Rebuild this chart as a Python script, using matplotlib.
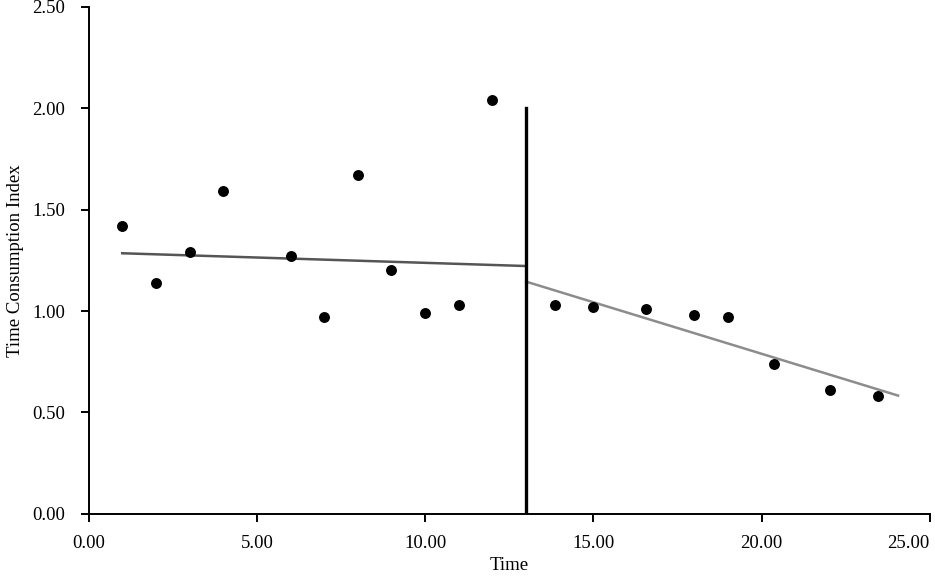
import matplotlib
matplotlib.use("Agg")
import matplotlib.pyplot as plt
from matplotlib.transforms import ScaledTranslation

plt.rcParams['font.family'] = ['Liberation Serif', 'DejaVu Serif']

# Phase A (baseline)
time_a = [1, 2, 3, 4, 6, 7, 8, 9, 10, 11, 12]
index_a = [1.42, 1.14, 1.29, 1.59, 1.27, 0.97, 1.67, 1.20, 0.99, 1.03, 2.04]
# Phase B (intervention)
time_b = [13.85, 15.0, 16.57, 18.0, 19.0, 20.36, 22.02, 23.46]
index_b = [1.03, 1.02, 1.01, 0.98, 0.97, 0.74, 0.61, 0.58]

# Trend lines (endpoints)
trend_a_x = [1.0, 13.0]
trend_a_y = [1.285, 1.222]
trend_b_x = [13.0, 24.05]
trend_b_y = [1.145, 0.583]

# Phase change line
phase_x = 13.0
phase_top = 2.0

xticks = [0, 5, 10, 15, 20, 25]
yticks = [0, 0.5, 1.0, 1.5, 2.0, 2.5]

fig = plt.figure(figsize=(9.35, 5.76), dpi=100)
ax = fig.add_axes([0.0947, 0.108, 0.9, 0.8800])

ax.plot(trend_a_x, trend_a_y, color='#555555', lw=1.8, zorder=2)
ax.plot(trend_b_x, trend_b_y, color='#8c8c8c', lw=1.8, zorder=2)
ax.plot([phase_x, phase_x], [0, phase_top], color='black', lw=2.4, zorder=3)
ax.scatter(time_a, index_a, s=62, color='black', zorder=4, linewidths=0)
ax.scatter(time_b, index_b, s=62, color='black', zorder=4, linewidths=0)

ax.set_xlim(0, 25)
ax.set_ylim(0, 2.5)
ax.set_xticks(xticks)
ax.set_yticks(yticks)
ax.set_xticklabels([f"{v:.2f}" for v in xticks])
ax.set_yticklabels([f"{v:.2f}" for v in yticks])

for s in ['top', 'right']:
    ax.spines[s].set_visible(False)
for s in ['left', 'bottom']:
    ax.spines[s].set_linewidth(1.4)
    ax.spines[s].set_color('black')

ax.tick_params(axis='both', direction='out', length=6, width=1.4, labelsize=13.5, colors='black')
ax.tick_params(axis='y', pad=11)
ax.tick_params(axis='x', pad=9)

# last x tick label is pulled inside the figure, as in the reference
last = ax.get_xticklabels()[-1]
last.set_transform(last.get_transform() + ScaledTranslation(-0.22, 0, fig.dpi_scale_trans))

ax.set_xlabel("Time", fontsize=13.5, labelpad=4)
ax.set_ylabel("Time Consumption Index", fontsize=13.5, labelpad=6)

fig.savefig("out.png", dpi=100)
